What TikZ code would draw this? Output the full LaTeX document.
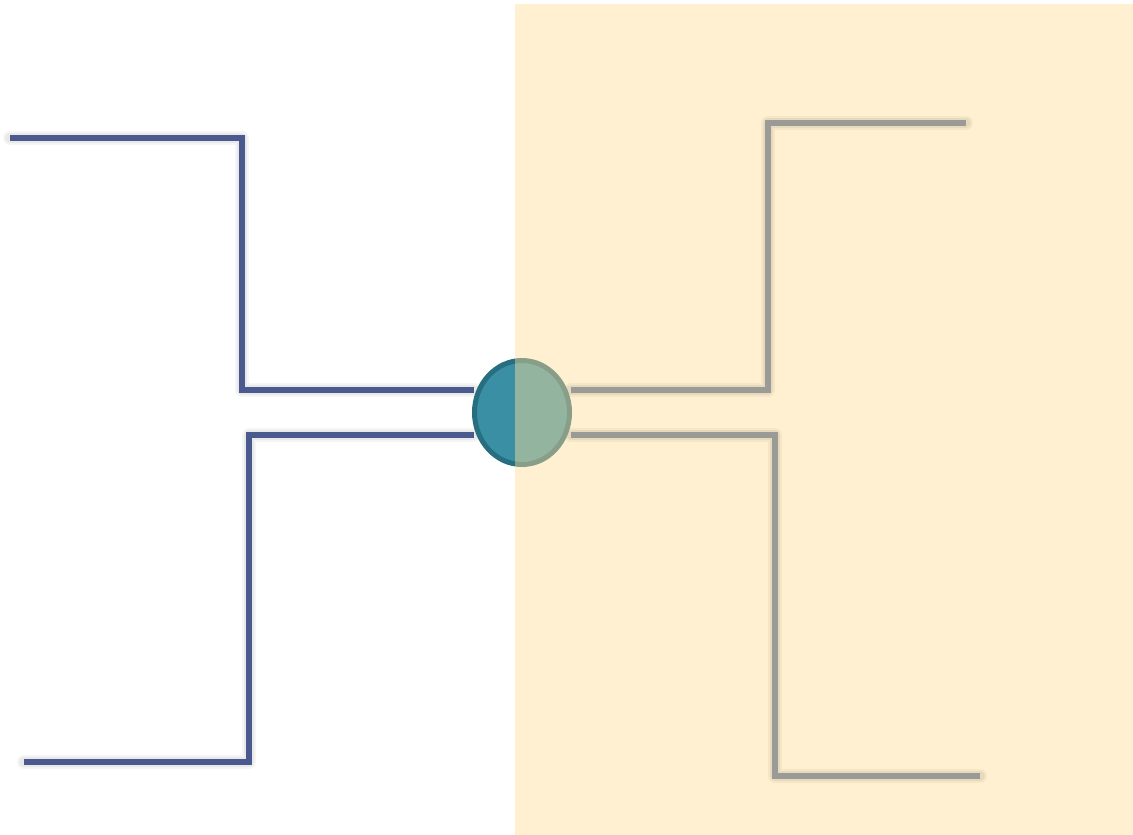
\documentclass[tikz,border=0pt]{standalone}
\usetikzlibrary{shapes.geometric}
\begin{document}
\begin{tikzpicture}[x=1pt,y=-1pt,
  wire/.style={line width=5.5pt,line join=miter},
  bluewire/.style={wire,draw={rgb,255:red,74;green,90;blue,142}},
  graywire/.style={wire,draw={rgb,255:red,154;green,154;blue,150}},
  shadeA/.style={line width=14pt,draw=black,opacity=0.04,line join=round,line cap=round},
  shadeB/.style={line width=10pt,draw=black,opacity=0.05,line join=round,line cap=round},
  shadeC/.style={line width=6pt,draw=black,opacity=0.07,line join=round}]
\useasboundingbox (0,0) rectangle (1133,835);
\definecolor{paper}{RGB}{254,240,208}
\definecolor{lfill}{RGB}{58,143,165}
\definecolor{ledge}{RGB}{38,110,128}
\definecolor{rfill}{RGB}{147,181,160}
\definecolor{redge}{RGB}{136,158,136}
\fill[paper] (515,4) rectangle (1133,835);
% coordinates
\coordinate (a0) at (10,138); \coordinate (a1) at (242,138); \coordinate (a2) at (242,390); \coordinate (a3) at (474,390);
\coordinate (b0) at (474,435); \coordinate (b1) at (249,435); \coordinate (b2) at (249,762); \coordinate (b3) at (24,762);
\coordinate (c0) at (571,390); \coordinate (c1) at (768,390); \coordinate (c2) at (768,123); \coordinate (c3) at (966,123);
\coordinate (d0) at (571,435); \coordinate (d1) at (775,435); \coordinate (d2) at (775,776); \coordinate (d3) at (980,776);
% shadows
\foreach \p in {{(a0)--(a1)--(a2)--(a3)},{(b0)--(b1)--(b2)--(b3)},{(c0)--(c1)--(c2)--(c3)},{(d0)--(d1)--(d2)--(d3)}}{
  \begin{scope}[shift={(2,6)}]
    \draw[shadeA] \p;
    \draw[shadeB] \p;
    \draw[shadeC] \p;
  \end{scope}
}
\draw[bluewire] (a0)--(a1)--(a2)--(a3);
\draw[bluewire] (b0)--(b1)--(b2)--(b3);
\draw[graywire] (c0)--(c1)--(c2)--(c3);
\draw[graywire] (d0)--(d1)--(d2)--(d3);
% circle
\node[ellipse,minimum width=101pt,minimum height=109pt,inner sep=0pt] (hub) at (522,412.5) {};
\begin{scope}
  \clip (400,300) rectangle (515,520);
  \fill[lfill] (hub.center) ellipse [x radius=47.5, y radius=52];
  \draw[ledge,line width=5pt] (hub.center) ellipse [x radius=47.5, y radius=52];
\end{scope}
\begin{scope}
  \clip (515,300) rectangle (640,520);
  \fill[rfill] (hub.center) ellipse [x radius=47.5, y radius=52];
  \draw[redge,line width=5pt] (hub.center) ellipse [x radius=47.5, y radius=52];
\end{scope}
\end{tikzpicture}
\end{document}
